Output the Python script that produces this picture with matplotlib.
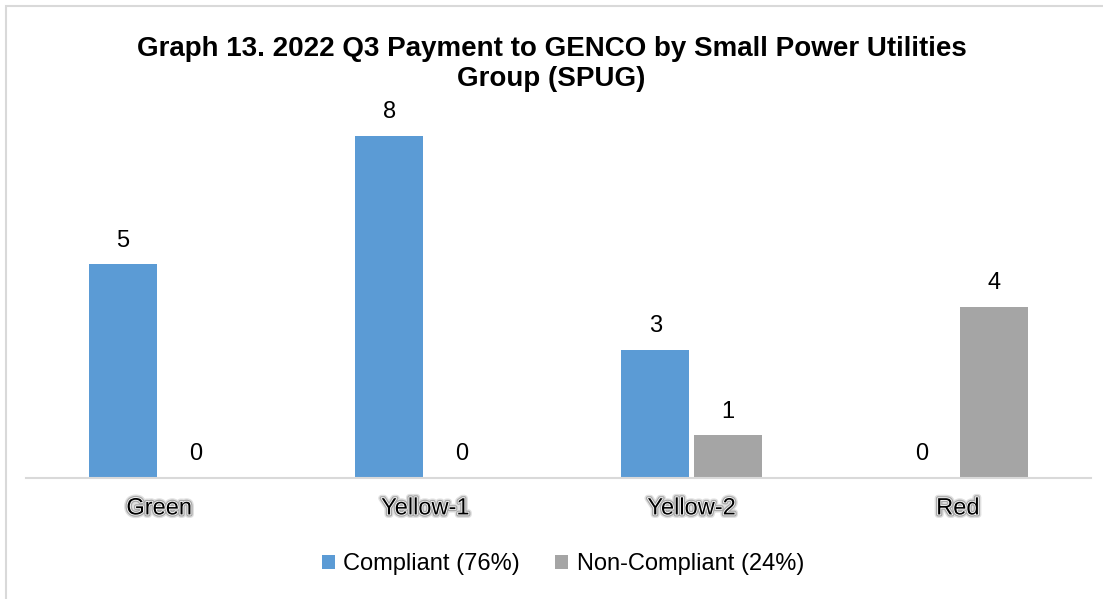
import matplotlib
matplotlib.use("Agg")
import matplotlib.pyplot as plt
import matplotlib.patheffects as pe
import numpy as np

categories = ["Green", "Yellow-1", "Yellow-2", "Red"]
compliant = [5, 8, 3, 0]
non_compliant = [0, 0, 1, 4]
series_names = ["Compliant (76%)", "Non-Compliant (24%)"]
title = "Graph 13. 2022 Q3 Payment to GENCO by Small Power Utilities\nGroup (SPUG)"

plt.rcParams['font.family'] = ['Liberation Sans', 'DejaVu Sans']

W, H = 1103, 599
fig = plt.figure(figsize=(W/100, H/100), dpi=100)
ax = fig.add_axes([26/W, 1-478/H, (1091-26)/W, (478-93)/H])

x = np.arange(len(categories))
bw = 0.255
off = 0.136
blue = "#5B9BD5"
gray = "#A5A5A5"
b1 = ax.bar(x - off, compliant, bw, color=blue, label=series_names[0])
b2 = ax.bar(x + off, non_compliant, bw, color=gray, label=series_names[1])

for bars, vals in ((b1, compliant), (b2, non_compliant)):
    for r, v in zip(bars, vals):
        ax.annotate(str(v), (r.get_x() + r.get_width()/2, v), xytext=(0, 9),
                    textcoords="offset points", ha="center", va="bottom",
                    fontsize=17, color="black")

ax.set_xlim(-0.5, len(categories) - 0.5)
ax.set_ylim(0, 9)
ax.set_yticks([])
for s in ("top", "right", "left"):
    ax.spines[s].set_visible(False)
ax.spines["bottom"].set_color("#D9D9D9")
ax.spines["bottom"].set_linewidth(1.5)
ax.set_xticks(x)
ax.set_xticklabels(categories, fontsize=17)
ax.tick_params(axis="x", length=0, pad=14)
for t in ax.get_xticklabels():
    t.set_path_effects([pe.Stroke(linewidth=5, foreground="#e0e0e0"),
                        pe.Stroke(linewidth=3, foreground="#a8a8a8"),
                        pe.Stroke(linewidth=1.2, foreground="white"),
                        pe.Normal()])

fig.text(0.5, 1-64/H, title, ha="center", va="center", fontsize=20,
         fontweight="bold", linespacing=1.25)

leg = fig.legend(handles=[b1, b2], loc="center", bbox_to_anchor=(563/W, 1-564/H),
                 ncol=2, frameon=False, fontsize=17, handlelength=0.55,
                 handleheight=0.55, handletextpad=0.35, columnspacing=1.5)

# outer frame
fig.patches.append(plt.Rectangle((6/W, -0.05), 1.2, 1-6/H+0.05, transform=fig.transFigure,
                                 fill=False, edgecolor="#D9D9D9", linewidth=1.5))

fig.savefig("out.png", dpi=100)
